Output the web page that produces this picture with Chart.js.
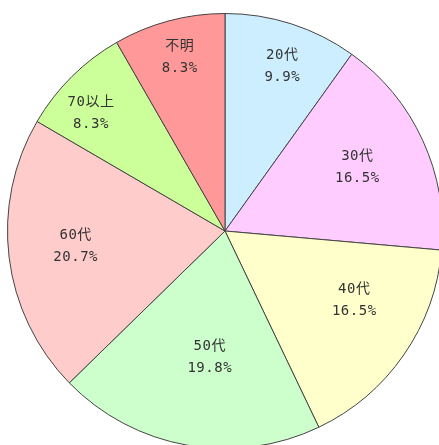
<!DOCTYPE html>
<html>
<head>
<meta charset="utf-8">
<script src="https://cdn.jsdelivr.net/npm/chart.js@4/dist/chart.umd.min.js"></script>
<style>
  html, body { margin: 0; padding: 0; background: #fff; overflow: hidden; width: 439px; height: 445px; }
  #wrap { position: absolute; left: 7px; top: 13px; width: 436px; height: 436px; }
</style>
</head>
<body>
<div id="wrap"><canvas id="myChart"></canvas></div>
<script>
// age groups, clockwise from 12 o'clock
const labels = ['20代', '30代', '40代', '50代', '60代', '70以上', '不明'];
const shares = [9.9, 16.5, 16.5, 19.8, 20.7, 8.3, 8.3];
const colors = ['#cceeff', '#ffccff', '#ffffcc', '#ccffcc', '#ffcccc', '#ccff99', '#ff9999'];
// label placement: fraction of radius, and a small turn (degrees) off the slice middle
const labelDist = [0.80, 0.676, 0.674, 0.585, 0.69, 0.82, 0.824];
const labelTurn = [1.4, -1.2, -6.6, -3.2, 1.3, -3.9, 0.3];

const sliceLabels = {
  id: 'sliceLabels',
  afterDatasetsDraw(chart) {
    const ctx = chart.ctx;
    const meta = chart.getDatasetMeta(0);
    ctx.save();
    ctx.font = '14px "DejaVu Sans Mono", "Noto Sans CJK JP", monospace';
    ctx.letterSpacing = '0.5px';
    ctx.fillStyle = '#333';
    ctx.textAlign = 'center';
    ctx.textBaseline = 'middle';
    meta.data.forEach((arc, i) => {
      const a = (arc.startAngle + arc.endAngle) / 2 + labelTurn[i] * Math.PI / 180;
      const r = arc.outerRadius * labelDist[i];
      const x = arc.x + Math.cos(a) * r;
      const y = arc.y + Math.sin(a) * r;
      ctx.fillText(labels[i], x, y - 11);
      ctx.fillText(shares[i].toFixed(1) + '%', x, y + 11);
    });
    ctx.restore();
  }
};

let myChart = document.getElementById('myChart').getContext('2d');
let pieChart = new Chart(myChart, {
  type: 'pie',
  data: {
    labels: labels,
    datasets: [{
      data: shares,
      backgroundColor: colors,
      borderColor: '#444',
      borderWidth: 1
    }]
  },
  options: {
    responsive: true,
    maintainAspectRatio: false,
    animation: false,
    layout: { padding: 0 },
    plugins: {
      legend: { display: false },
      tooltip: { enabled: false }
    }
  },
  plugins: [sliceLabels]
});
</script>
</body>
</html>
